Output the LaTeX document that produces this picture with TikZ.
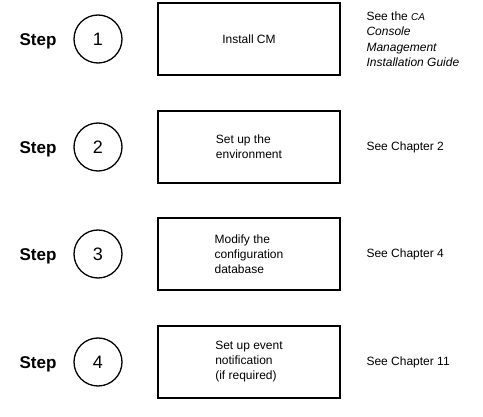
\documentclass[tikz,border=0pt]{standalone}
\usepackage{fontspec}
\setmainfont{Liberation Sans}
\begin{document}
\begin{tikzpicture}[x=1pt,y=-1pt,
  steplabel/.style={font=\fontsize{17}{17}\selectfont\bfseries},
  stepnum/.style={circle,draw,line width=1.3pt,minimum size=48pt,inner sep=0pt,font=\fontsize{18}{18}\selectfont},
  taskbox/.style={draw,line width=1.3pt,minimum width=182pt,minimum height=72pt,align=left,font=\fontsize{12}{15}\selectfont},
  seeref/.style={anchor=west,align=left,font=\fontsize{12}{15.5}\selectfont}]
  \useasboundingbox (0,0) rectangle (483,417);
  \foreach \n/\y/\task/\seetext in {
    1/39/{Install CM}/{See the \textit{\fontsize{10}{10}\selectfont CA}\\\textit{Console}\\\textit{Management}\\\textit{Installation Guide}},
    2/147/{Set up the\\environment}/{See Chapter 2},
    3/254/{Modify the\\configuration\\database}/{See Chapter 4},
    4/362/{Set up event\\notification\\(if required)}/{See Chapter 11}}{
    \node[steplabel] (step\n) at (38,\y+2) {Step};
    \node[stepnum] (num\n) at (98,\y) {\n};
    \node[taskbox] (task\n) at (249,\y) {\task};
    \node[seeref] (see\n) at (363,\y) {\seetext};
  }
\end{tikzpicture}
\end{document}
